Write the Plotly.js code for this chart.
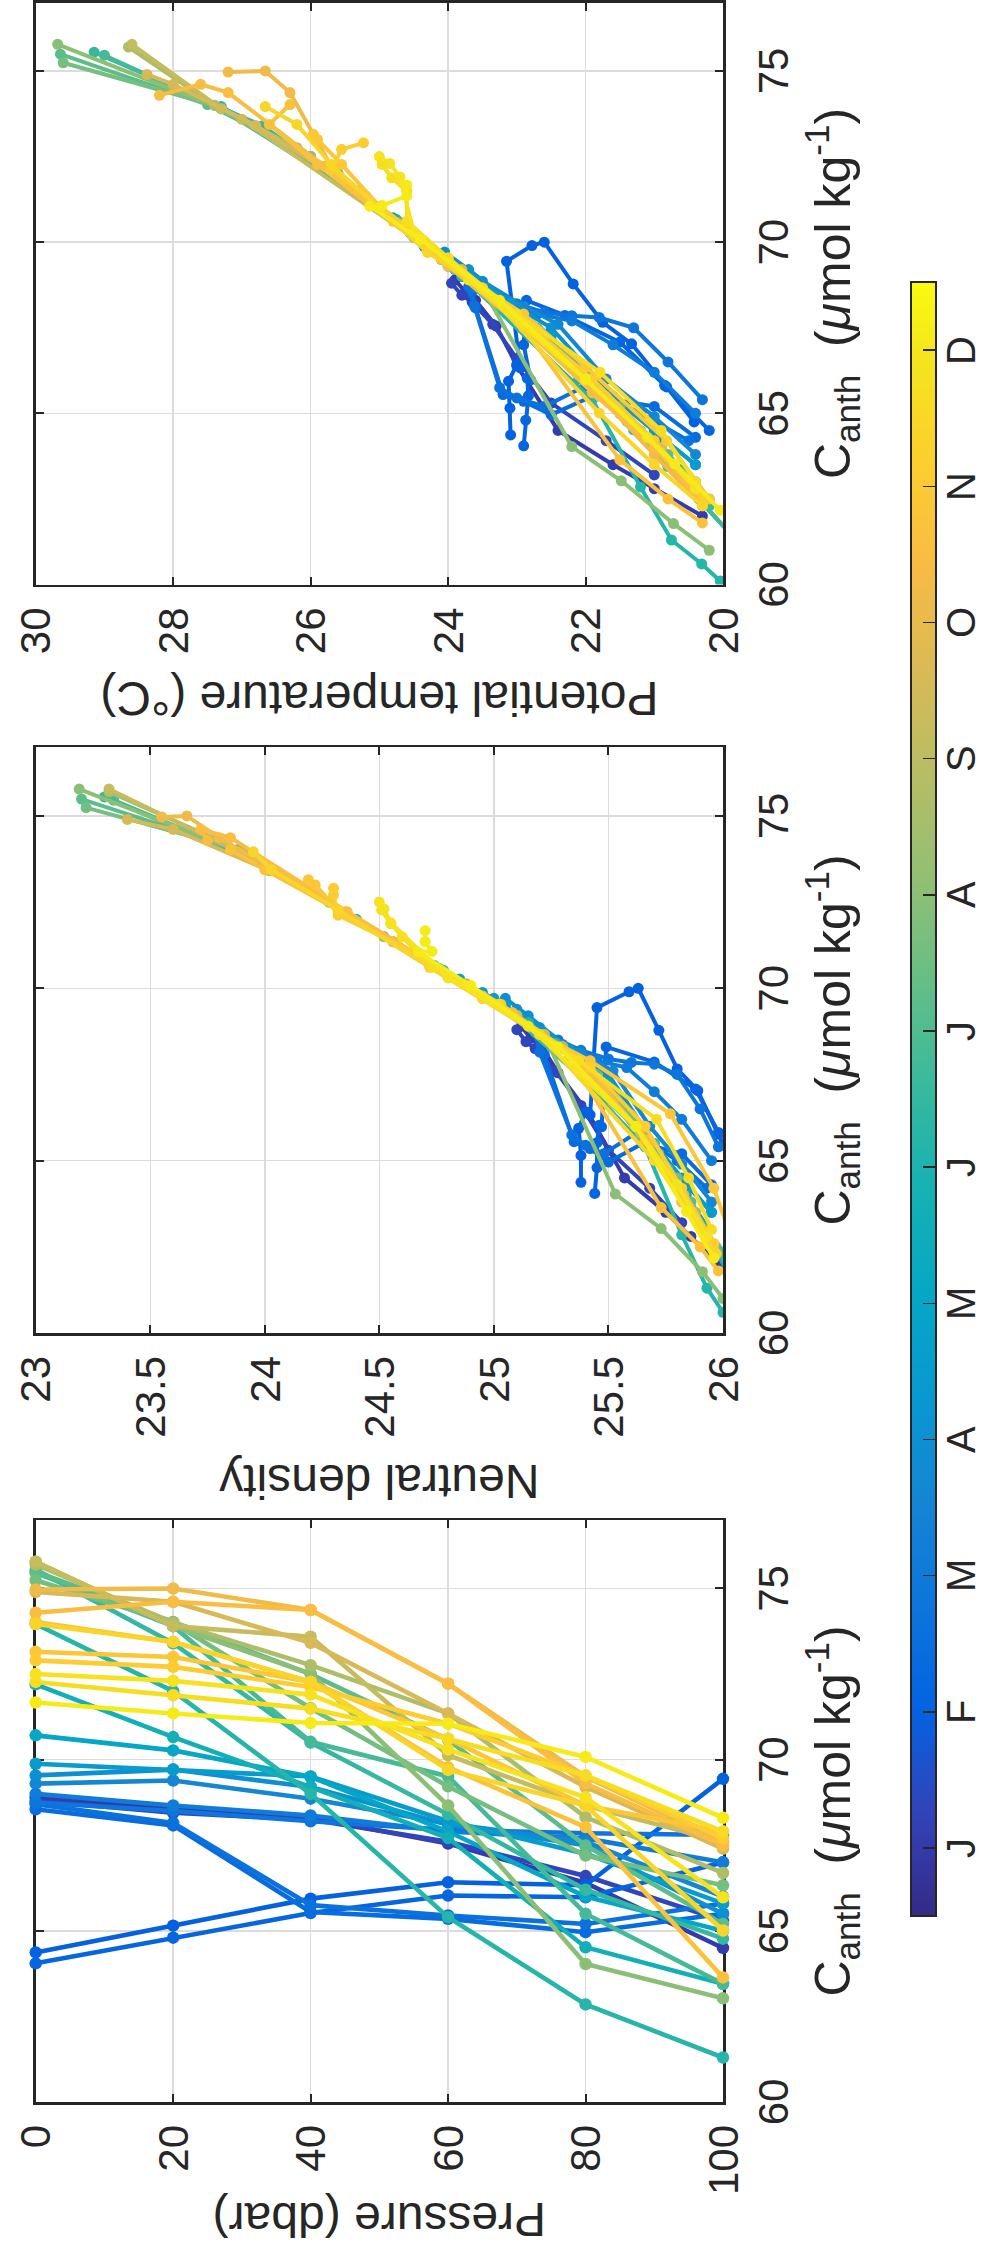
<!DOCTYPE html>
<html>
<head>
<meta charset="utf-8">
<script src="https://cdn.plot.ly/plotly-3.0.1.min.js"></script>
<style>
html,body{margin:0;padding:0;width:982px;height:2246px;overflow:hidden;background:#ffffff;}
#fig{position:absolute;left:0;top:0;width:2246px;height:982px;transform-origin:0 0;}
</style>
</head>
<body>
<div id="fig"></div>
<script>
// ---------------- DATA ----------------
const monthTicks  = [1,2,3,4,5,6,7,8,9,10,11,12];
const monthLabels = ['J','F','M','A','M','J','J','A','S','O','N','D'];
const pressureLevels = [0,20,40,60,80,100];           // dbar, levels shown in panel 1

// month (fractional) of each profile
const profileMonth = [1.05,1.3,2.0,2.15,2.4,2.6,2.8,3.1,3.6,4.0,4.5,5.0,5.7,6.2,6.5,6.8,7.2,7.6,8.0,8.7,9.2,9.6,10.2,10.5,10.7,10.9,11.1,11.4,11.7,11.85,12.1];

// Canth (umol/kg) along each profile, every 20 dbar from the surface
const canth = [
 [68.9,68.55,68.3,67.55,66.4,64.5,63.5,62.8,62.0],
 [68.8,68.45,68.25,67.6,66.6,65.3,64.2,63.2],
 [64.37,65.15,65.94,66.42,66.33,69.44,69.9,70.0,68.78,67.66,67.03,65.77,64.75],
 [64.05,64.8,65.52,66.03,65.98,67.0,68.3,67.86,67.08,65.82,64.5],
 [68.55,68.08,65.55,65.35,64.96,65.5,65.2,64.3],
 [68.7,68.15,65.75,65.45,65.2,65.8,65.0,64.2],
 [68.75,68.5,68.2,67.95,67.85,67.8,67.5,66.5,65.4],
 [69.0,68.66,68.37,67.9,67.7,67.0,66.2,65.0],
 [69.3,69.39,68.86,68.13,67.6,66.0,64.9,63.8],
 [69.54,69.71,69.2,68.1,67.5,65.5,64.3,63.5],
 [69.88,69.71,69.51,68.2,67.25,65.8,64.5,63.5],
 [70.71,70.27,69.5,67.9,66.0,65.0,64.0,63.0],
 [72.2,70.66,69.2,67.71,64.52,63.45,62.5,61.5],
 [73.96,72.0,69.0,65.4,62.85,61.3,60.6,60.1],
 [75.55,73.4,70.5,68.4,66.2,64.77,63.5,62.3],
 [75.46,73.9,70.52,69.51,65.5,63.45,62.4,61.5],
 [75.49,74.02,72.5,70.58,67.49,65.2,63.8,62.5],
 [75.24,74.0,71.5,69.22,67.2,66.33,64.5,63.0],
 [75.78,73.9,72.51,68.66,64.03,63.03,61.78,61.0],
 [75.7,74.0,72.76,71.35,68.32,66.69,65.0,63.5],
 [75.78,73.9,73.59,70.13,68.66,67.6,65.8,64.0,62.5],
 [74.9,74.61,73.41,71.35,69.2,67.4,65.6,64.0],
 [74.97,75.0,74.37,72.22,69.5,67.6,65.5,63.8,62.3],
 [74.29,74.61,74.37,72.22,69.3,67.5,65.6,64.0,62.4],
 [74.02,73.44,72.27,69.78,68.03,63.64,62.5,61.8],
 [73.15,73.0,72.27,70.61,68.66,67.9,66.36,64.2,62.5],
 [72.9,72.71,72.12,71.05,69.54,67.7,66.0,64.2,62.6],
 [73.96,73.44,72.27,69.7,68.66,65.01,63.5,62.3],
 [72.27,71.88,71.49,70.61,69.54,67.9,66.2,64.5,63.0],
 [72.5,72.3,71.9,70.3,68.9,65.98,64.3,62.8],
 [71.67,71.35,71.07,71.05,70.08,68.3,66.0,63.53,62.17]
];

// neutral density along each profile
const gammaN = [
 [25.12,25.16,25.21,25.28,25.41,25.57,25.75,25.86,25.98],
 [25.1,25.14,25.18,25.27,25.38,25.5,25.68,25.82],
 [25.38,25.38,25.37,25.4,25.42,25.45,25.59,25.63,25.72,25.8,25.89,25.98,26.05],
 [25.44,25.45,25.45,25.46,25.47,25.48,25.49,25.7,25.88,25.98,26.05],
 [25.2,25.22,25.35,25.42,25.5,25.65,25.82,25.95],
 [25.18,25.2,25.34,25.4,25.48,25.62,25.8,25.93],
 [25.2,25.28,25.38,25.5,25.6,25.7,25.8,25.9,25.98],
 [25.15,25.22,25.3,25.45,25.58,25.7,25.82,25.95],
 [25.08,25.1,25.2,25.38,25.52,25.68,25.82,25.95],
 [25.03,25.05,25.15,25.36,25.5,25.7,25.84,25.95],
 [24.95,25.0,25.05,25.33,25.5,25.66,25.82,25.95],
 [24.72,24.85,25.03,25.38,25.62,25.72,25.84,25.94],
 [24.35,24.74,25.1,25.4,25.78,25.87,25.96,26.04],
 [23.9,24.4,25.15,25.66,25.82,25.93,26.0,26.05],
 [23.3,24.05,24.78,25.27,25.6,25.76,25.88,25.98],
 [23.34,23.9,24.78,25.03,25.7,25.88,25.98,26.05],
 [23.2,23.88,24.28,24.76,25.45,25.72,25.86,25.97],
 [23.22,23.9,24.52,25.1,25.48,25.6,25.8,25.92],
 [23.19,23.92,24.28,25.22,25.53,25.73,25.91,26.0],
 [23.32,23.9,24.22,24.56,25.3,25.52,25.72,25.88],
 [23.32,23.9,24.0,24.88,25.22,25.42,25.64,25.82,25.96],
 [23.4,23.6,24.02,24.56,25.1,25.45,25.66,25.83],
 [23.55,23.66,23.8,24.35,25.03,25.42,25.68,25.82,25.97],
 [23.75,23.72,23.85,24.36,25.08,25.43,25.66,25.82,25.96],
 [23.85,24.0,24.32,24.95,25.33,25.73,25.9,25.98],
 [24.19,24.22,24.32,24.72,25.2,25.42,25.77,25.96,26.05],
 [24.3,24.3,24.32,24.65,25.03,25.42,25.66,25.82,25.96],
 [23.95,24.03,24.32,24.95,25.2,25.7,25.85,25.97],
 [24.51,24.55,24.6,24.73,25.02,25.37,25.71,25.85,25.95],
 [24.5,24.52,24.55,24.8,25.15,25.62,25.8,25.93],
 [24.7,24.7,24.73,24.67,24.9,25.28,25.62,25.84,25.96]
];

// potential temperature (deg C) along each profile
const theta = [
 [23.9,23.75,23.6,23.3,23.0,22.4,21.6,21.0,20.3],
 [23.95,23.8,23.65,23.35,23.0,22.5,21.7,21.0],
 [23.09,23.1,23.12,23.0,22.95,23.15,22.78,22.6,22.18,21.75,21.33,20.82,20.42],
 [22.9,22.87,22.83,22.85,22.8,22.9,22.86,22.3,21.5,20.85,20.2],
 [23.65,23.6,23.2,22.9,22.5,21.9,21.0,20.4],
 [23.7,23.62,23.25,23.0,22.6,22.0,21.2,20.5],
 [23.6,23.4,23.0,22.6,22.2,21.8,21.3,20.8,20.3],
 [23.8,23.6,23.3,22.7,22.2,21.6,21.0,20.4],
 [24.0,23.95,23.5,22.9,22.4,21.7,21.0,20.4],
 [24.1,24.05,23.7,23.0,22.5,21.6,20.9,20.4],
 [24.35,24.2,24.05,23.1,22.5,21.8,21.0,20.4],
 [24.8,24.55,24.1,23.1,22.1,21.5,20.9,20.4],
 [25.8,24.75,23.9,22.95,21.3,20.8,20.35,19.9],
 [27.3,25.6,23.8,21.9,21.2,20.75,20.31,20.04],
 [29.15,26.7,24.65,23.4,22.1,21.4,20.8,20.2],
 [29.0,27.3,24.66,24.0,21.7,20.8,20.3,19.9],
 [29.64,27.5,26.0,24.7,22.7,21.5,20.8,20.2],
 [29.6,27.4,25.3,23.9,22.6,22.1,21.2,20.5],
 [29.68,27.3,26.0,23.5,22.2,21.48,20.72,20.2],
 [28.65,27.4,26.2,25.2,23.3,22.4,21.5,20.7],
 [28.6,27.3,27.0,24.5,23.5,22.8,21.9,21.0,20.3],
 [28.38,28.0,26.8,25.2,23.8,22.7,21.8,20.9],
 [27.2,26.66,26.3,25.7,24.1,22.9,21.8,21.0,20.3],
 [28.2,27.6,27.2,25.8,24.0,22.9,21.9,21.0,20.3],
 [26.3,26.6,25.9,24.3,23.1,21.5,20.8,20.3],
 [25.96,25.9,25.55,24.8,23.5,22.9,22.0,20.82,20.2],
 [25.23,25.55,25.7,25.0,24.0,22.9,21.9,21.0,20.3],
 [26.66,26.2,25.7,24.3,23.5,21.8,21.0,20.3],
 [24.96,24.82,24.6,24.6,24.0,23.0,21.79,20.9,20.4],
 [25.0,24.85,24.7,24.5,23.7,22.0,21.1,20.4],
 [24.6,24.6,24.96,25.14,24.4,23.25,22.0,20.7,20.04]
];

// ---------------- STYLE ----------------
const W = 2246, H = 982;
const FONT = 'Liberation Sans, Arial, Helvetica, sans-serif';
const INK = '#262626';
// MATLAB parula (R2014b)
const PARULA = [
 [0.0,'rgb(53,42,135)'],[0.0635,'rgb(50,67,186)'],[0.127,'rgb(3,99,225)'],[0.1905,'rgb(13,117,220)'],
 [0.254,'rgb(20,133,212)'],[0.3175,'rgb(9,152,209)'],[0.381,'rgb(6,167,198)'],[0.444,'rgb(21,177,180)'],
 [0.508,'rgb(56,185,158)'],[0.571,'rgb(101,190,134)'],[0.635,'rgb(146,191,115)'],[0.698,'rgb(183,189,100)'],
 [0.762,'rgb(217,186,86)'],[0.825,'rgb(248,187,68)'],[0.889,'rgb(252,206,46)'],[0.952,'rgb(245,228,29)'],
 [1.0,'rgb(249,251,14)']
];
const CMIN = 0.5, CMAX = 12.5;
function parse(c){ return c.match(/\d+/g).map(Number); }
function colorFor(v){
  let f = (v - CMIN) / (CMAX - CMIN);
  f = Math.max(0, Math.min(1, f));
  for (let i = 0; i < PARULA.length - 1; i++) {
    const [f0, c0] = PARULA[i], [f1, c1] = PARULA[i + 1];
    if (f >= f0 && f <= f1) {
      const t = (f - f0) / (f1 - f0), a = parse(c0), b = parse(c1);
      return 'rgb(' + a.map((x, k) => Math.round(x + (b[k] - x) * t)).join(',') + ')';
    }
  }
  return PARULA[PARULA.length - 1][1];
}

const traces = [];
profileMonth.forEach((m, i) => {
  const col = colorFor(m);
  const n1 = pressureLevels.length;
  traces.push({type:'scatter', mode:'lines+markers', xaxis:'x', yaxis:'y',
    x: canth[i].slice(0, n1), y: pressureLevels.slice(0, Math.min(n1, canth[i].length)),
    line:{color:col, width:4.6}, marker:{color:col, size:12.5}, cliponaxis:false,
    showlegend:false, hoverinfo:'skip'});
  traces.push({type:'scatter', mode:'lines+markers', xaxis:'x2', yaxis:'y2',
    x: canth[i], y: gammaN[i],
    line:{color:col, width:4}, marker:{color:col, size:11},
    showlegend:false, hoverinfo:'skip'});
  traces.push({type:'scatter', mode:'lines+markers', xaxis:'x3', yaxis:'y3',
    x: canth[i], y: theta[i],
    line:{color:col, width:4}, marker:{color:col, size:11},
    showlegend:false, hoverinfo:'skip'});
});

// colour bar geometry (figure pixels, un-rotated frame)
const CB_X0 = 330, CB_X1 = 1964, CB_TOP = 911, CB_THICK = 25;
// colour bar carrier (point lies outside the axis range, so only the bar shows)
traces.push({type:'scatter', mode:'markers', xaxis:'x', yaxis:'y', x:[65], y:[-500],
  cliponaxis:true, showlegend:false, hoverinfo:'skip',
  marker:{color:[6], cmin:CMIN, cmax:CMAX, colorscale:PARULA, showscale:true, size:1,
    colorbar:{orientation:'h', x:(CB_X0+CB_X1)/2/W, xanchor:'center', y:(H-CB_TOP)/H, yanchor:'top',
      len:CB_X1-CB_X0, lenmode:'pixels', thickness:CB_THICK, thicknessmode:'pixels',
      outlinewidth:2, outlinecolor:INK, xpad:0, ypad:0,
      tickmode:'array', tickvals:monthTicks, showticklabels:false,
      ticks:'inside', ticklen:14, tickwidth:1.5, tickcolor:INK}}});

// month labels under the colour bar
const annotations = monthTicks.map((m, k) => ({
  xref:'paper', yref:'paper',
  x:(CB_X0 + (m - CMIN) / (CMAX - CMIN) * (CB_X1 - CB_X0)) / W,
  y:1 - 961/H, xanchor:'center', yanchor:'middle', showarrow:false,
  text:monthLabels[k], font:{family:FONT, size:40, color:INK}
}));

const XTITLE = 'C<sub>anth</sub>\u00a0\u00a0(<i>\u03bc</i>mol kg<sup>-1</sup>)';
function ax(extra){
  return Object.assign({showline:true, linecolor:INK, linewidth:2.5, mirror:'ticks',
    ticks:'inside', ticklen:8, tickwidth:2, tickcolor:INK,
    showgrid:true, gridcolor:'#dcdcdc', gridwidth:1.5, zeroline:false,
    layer:'below traces', ticklabelstandoff:12,
    tickfont:{family:FONT, size:42, color:INK}, fixedrange:true}, extra);
}
const yDom = [1 - 723/H, 1 - 35.7/H];
const xTitle = {text:XTITLE, font:{family:FONT, size:50, color:INK}, standoff:18};
const layout = {
  width:W, height:H, autosize:false,
  margin:{l:0, r:0, t:0, b:0, autoexpand:false}, paper_bgcolor:'#ffffff', plot_bgcolor:'#ffffff',
  font:{family:FONT, color:INK},
  annotations: annotations,
  xaxis: ax({domain:[144/W, 726/W], range:[60,77], tickvals:[60,65,70,75], anchor:'y', title:xTitle}),
  yaxis: ax({domain:yDom, range:[100,0], tickvals:[0,20,40,60,80,100], anchor:'x',
    title:{text:'Pressure (dbar)', font:{family:FONT, size:48, color:INK}, standoff:12}}),
  xaxis2: ax({domain:[913/W, 1499/W], range:[60,77], tickvals:[60,65,70,75], anchor:'y2', title:xTitle}),
  yaxis2: ax({domain:yDom, range:[26,23], tickvals:[23,23.5,24,24.5,25,25.5,26], ticktext:['23','23.5','24','24.5','25','25.5','26'], anchor:'x2',
    title:{text:'Neutral density', font:{family:FONT, size:48, color:INK}, standoff:12}}),
  xaxis3: ax({domain:[1661.5/W, 2243.5/W], range:[60,77], tickvals:[60,65,70,75], anchor:'y3', title:xTitle}),
  yaxis3: ax({domain:yDom, range:[20,30], tickvals:[20,22,24,26,28,30], anchor:'x3',
    title:{text:'Potential temperature (\u00b0C)', font:{family:FONT, size:48, color:INK}, standoff:12}})
};

const fig = document.getElementById('fig');
Plotly.newPlot(fig, traces, layout, {staticPlot:true, displayModeBar:false}).then(() => {
  // drop empty placeholder text nodes and the off-screen measuring node
  fig.querySelectorAll('text').forEach(t => { if (!t.textContent.trim()) t.remove(); });
  const tester = document.getElementById('js-plotly-tester');
  if (tester) tester.remove();
  fig.style.transform = 'translate(0px,' + W + 'px) rotate(-90deg)';
});
</script>
</body>
</html>
